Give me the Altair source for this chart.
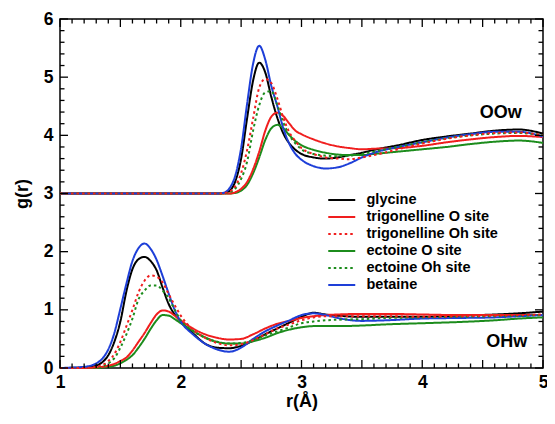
import altair as alt
import pandas as pd

# ---------------- data ----------------
series = ["glycine", "trigonelline O site", "trigonelline Oh site",
          "ectoine O site", "ectoine Oh site", "betaine"]
colors = ["#000000", "#f01e1e", "#f01e1e", "#1c8c1c", "#1c8c1c", "#1e3fd8"]
dashes = [[1, 0], [1, 0], [2.5, 3], [1, 0], [2.5, 3], [1, 0]]
draw_order = ["glycine", "ectoine O site", "trigonelline O site", "betaine",
              "ectoine Oh site", "trigonelline Oh site"]

oow_offset = 3.0

r_oow = [1.0, 2.3, 2.35, 2.4, 2.45, 2.5, 2.55, 2.6, 2.65, 2.7, 2.75, 2.8, 2.85, 2.9,
         2.95, 3.0, 3.1, 3.2, 3.3, 3.4, 3.5, 3.6, 3.8, 4.0, 4.2, 4.4, 4.6, 4.8, 5.0]
oow = {
    "glycine": [0, 0, 0.005, 0.04, 0.2, 0.6, 1.3, 1.95, 2.25, 2.08, 1.66, 1.3, 1.03, 0.86,
                0.75, 0.68, 0.62, 0.60, 0.62, 0.66, 0.70, 0.75, 0.83, 0.92, 0.98, 1.03, 1.08, 1.10, 1.03],
    "trigonelline O site": [0, 0, 0, 0.0, 0.02, 0.08, 0.2, 0.42, 0.72, 1.08, 1.32, 1.39, 1.33, 1.2,
                            1.08, 1.02, 0.93, 0.86, 0.81, 0.78, 0.76, 0.77, 0.78, 0.82, 0.88, 0.93, 0.97, 0.99, 0.97],
    "trigonelline Oh site": [0, 0, 0.005, 0.03, 0.12, 0.35, 0.75, 1.3, 1.82, 1.97, 1.9, 1.63, 1.3, 1.05,
                             0.9, 0.78, 0.68, 0.62, 0.60, 0.59, 0.62, 0.66, 0.76, 0.86, 0.94, 1.0, 1.04, 1.05, 1.0],
    "ectoine O site": [0, 0, 0, 0, 0.01, 0.05, 0.15, 0.35, 0.62, 0.92, 1.12, 1.18, 1.12, 1.0,
                       0.9, 0.83, 0.75, 0.70, 0.67, 0.66, 0.66, 0.68, 0.72, 0.76, 0.80, 0.85, 0.89, 0.91, 0.87],
    "ectoine Oh site": [0, 0, 0, 0.02, 0.08, 0.25, 0.55, 1.09, 1.52, 1.74, 1.76, 1.52, 1.22, 1.0,
                        0.86, 0.76, 0.68, 0.65, 0.64, 0.65, 0.68, 0.72, 0.80, 0.88, 0.95, 1.0, 1.03, 1.04, 1.0],
    "betaine": [0, 0, 0.01, 0.08, 0.3, 0.78, 1.55, 2.24, 2.54, 2.3, 1.85, 1.5, 1.12, 0.85,
                0.68, 0.58, 0.47, 0.43, 0.45, 0.52, 0.62, 0.70, 0.80, 0.88, 0.96, 1.02, 1.06, 1.06, 0.98],
}

r_ohw = [1.0, 1.2, 1.3, 1.35, 1.4, 1.45, 1.5, 1.55, 1.6, 1.65, 1.7, 1.75, 1.8, 1.85, 1.9,
         1.95, 2.0, 2.1, 2.2, 2.3, 2.4, 2.5, 2.6, 2.7, 2.8, 2.9, 3.0, 3.1, 3.2, 3.3, 3.5,
         3.7, 4.0, 4.3, 4.6, 4.8, 5.0]
ohw = {
    "glycine": [0.0, 0.01, 0.04, 0.1, 0.22, 0.45, 0.8, 1.32, 1.7, 1.87, 1.91, 1.84, 1.68, 1.38, 1.1,
                0.92, 0.8, 0.6, 0.42, 0.35, 0.34, 0.38, 0.47, 0.58, 0.68, 0.78, 0.88, 0.95, 0.92, 0.9, 0.88,
                0.88, 0.88, 0.9, 0.92, 0.94, 0.97],
    "trigonelline O site": [0.0, 0.0, 0.01, 0.02, 0.04, 0.07, 0.12, 0.18, 0.3, 0.45, 0.6, 0.77, 0.92, 0.99, 0.97,
                            0.9, 0.82, 0.68, 0.58, 0.52, 0.49, 0.5, 0.58, 0.68, 0.76, 0.81, 0.86, 0.89, 0.91, 0.92, 0.93,
                            0.93, 0.92, 0.91, 0.91, 0.91, 0.91],
    "trigonelline Oh site": [0.0, 0.0, 0.02, 0.05, 0.12, 0.24, 0.45, 0.72, 1.0, 1.3, 1.5, 1.59, 1.57, 1.47, 1.27,
                             1.08, 0.9, 0.66, 0.52, 0.43, 0.39, 0.41, 0.48, 0.58, 0.68, 0.75, 0.82, 0.87, 0.89, 0.89, 0.89,
                             0.89, 0.88, 0.89, 0.9, 0.91, 0.92],
    "ectoine O site": [0.0, 0.0, 0.0, 0.01, 0.02, 0.04, 0.08, 0.14, 0.22, 0.35, 0.5, 0.67, 0.82, 0.91, 0.9,
                       0.84, 0.77, 0.64, 0.53, 0.45, 0.42, 0.42, 0.46, 0.52, 0.6, 0.66, 0.7, 0.72, 0.72, 0.72, 0.73,
                       0.75, 0.77, 0.79, 0.82, 0.85, 0.87],
    "ectoine Oh site": [0.0, 0.0, 0.01, 0.03, 0.08, 0.17, 0.35, 0.58, 0.85, 1.18, 1.33, 1.42, 1.42, 1.33, 1.2,
                        1.0, 0.82, 0.64, 0.52, 0.45, 0.42, 0.43, 0.48, 0.56, 0.63, 0.7, 0.77, 0.8, 0.82, 0.83, 0.84,
                        0.86, 0.87, 0.88, 0.89, 0.9, 0.91],
    "betaine": [0.0, 0.02, 0.08, 0.16, 0.32, 0.6, 1.02, 1.45, 1.84, 2.06, 2.14, 2.05, 1.86, 1.58, 1.28,
                1.0, 0.8, 0.58, 0.42, 0.32, 0.28, 0.35, 0.5, 0.63, 0.73, 0.82, 0.91, 0.94, 0.91, 0.86, 0.81,
                0.82, 0.85, 0.86, 0.87, 0.89, 0.91],
}

label_text = ["OOw", "OHw"]
label_r = [4.65, 4.70]
label_g = [4.38, 0.45]

x_major = [1, 2, 3, 4, 5]
x_mid = [1.5, 2.5, 3.5, 4.5]
x_minor = [round(1 + i * 0.1, 1) for i in range(41) if i % 5 != 0]
y_major = [0, 1, 2, 3, 4, 5, 6]
y_minor = [round(i * 0.2, 1) for i in range(31) if i % 5 != 0]

# ---------------- build ----------------
rows = []
for s in series:
    for r, v in zip(r_oow, oow[s]):
        rows.append({"r": r, "g": v + oow_offset, "series": s, "group": "OOw"})
    for r, v in zip(r_ohw, ohw[s]):
        rows.append({"r": r, "g": v, "series": s, "group": "OHw"})
df = pd.DataFrame(rows)

W, H = 483, 349
XMIN, XMAX, YMIN, YMAX = 1, 5, 0, 6
FONT = "Liberation Sans"

xs = alt.Scale(domain=[XMIN, XMAX], nice=False, zero=False)
ys = alt.Scale(domain=[YMIN, YMAX], nice=False, zero=False)
xaxis = alt.Axis(values=x_major, title="r(Å)", labelPadding=5, titlePadding=2, labelFlush=False)
yaxis = alt.Axis(values=y_major, title="g(r)", labelPadding=7, titlePadding=12, labelFlush=False)


def X(field="r"):
    return alt.X(f"{field}:Q", scale=xs, axis=xaxis)


def Y(field="g"):
    return alt.Y(f"{field}:Q", scale=ys, axis=yaxis)


legend = alt.Legend(orient="none", legendX=267, legendY=173)
color = alt.Color("series:N", scale=alt.Scale(domain=series, range=colors), title=None, legend=legend)
dash = alt.StrokeDash("series:N", scale=alt.Scale(domain=series, range=dashes), title=None, legend=legend)

# inward tick marks, each one a two-point segment; length in pixels -> data units
px_x = (XMAX - XMIN) / W
px_y = (YMAX - YMIN) / H
tick_len = {"major": 8, "mid": 8, "minor": 4.5}
tick_rows = []
tid = 0
for kind, vals in (("major", x_major), ("mid", x_mid), ("minor", x_minor)):
    L = tick_len[kind] * px_y
    for v in vals:
        for g0, g1 in ((YMIN, YMIN + L), (YMAX, YMAX - L)):
            tick_rows.append({"r": v, "g": g0, "tid": tid})
            tick_rows.append({"r": v, "g": g1, "tid": tid})
            tid += 1
for kind, vals in (("major", y_major), ("minor", y_minor)):
    L = tick_len[kind] * px_x
    for v in vals:
        for r0, r1 in ((XMIN, XMIN + L), (XMAX, XMAX - L)):
            tick_rows.append({"r": r0, "g": v, "tid": tid})
            tick_rows.append({"r": r1, "g": v, "tid": tid})
            tid += 1

base = alt.Chart(df)
layers = []
for s in draw_order:
    layers.append(
        base.transform_filter(alt.datum.series == s)
        .mark_line(strokeWidth=2, interpolate="monotone")
        .encode(x=X(), y=Y(), color=color, strokeDash=dash, detail="group:N")
    )

layers.append(
    alt.Chart(pd.DataFrame(tick_rows)).mark_line(stroke="#000000", strokeWidth=1.3, opacity=1)
    .encode(x=X(), y=Y(), detail="tid:N")
)

tdf = pd.DataFrame({"r": label_r, "g": label_g, "text": label_text})
layers.append(alt.Chart(tdf).mark_text(font=FONT, fontSize=18, fontWeight="bold",
                                       align="center", baseline="middle", color="black")
              .encode(x=X(), y=Y(), text="text:N"))

chart = (
    alt.layer(*layers)
    .properties(width=W, height=H, autosize=alt.AutoSizeParams(type="none"),
                padding={"left": 52, "top": 11, "right": 4, "bottom": 45})
    .configure_view(stroke="black", strokeWidth=1.5)
    .configure_axis(grid=False, domain=False, ticks=False,
                    labelFont=FONT, labelFontSize=17.5, labelFontWeight="bold", labelColor="black",
                    titleFont=FONT, titleFontSize=18, titleFontWeight="bold", titleColor="black")
    .configure_legend(symbolType="M-1,0H3", symbolSize=182.25, symbolStrokeWidth=2,
                      labelFont=FONT, labelFontSize=14.5, labelFontWeight="bold", labelColor="black",
                      labelOffset=23.5, padding=0, rowPadding=2, labelLimit=300)
)

chart.save("out.html", embed_options={"renderer": "svg", "actions": False})
